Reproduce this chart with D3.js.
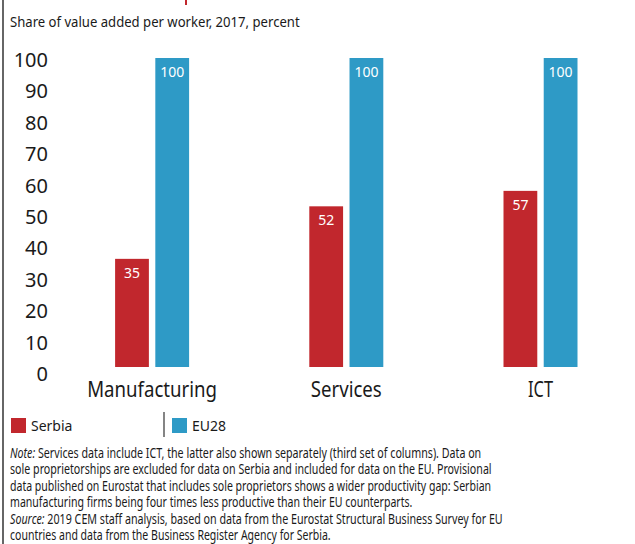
<!DOCTYPE html>
<html><head><meta charset="utf-8">
<script src="https://cdn.jsdelivr.net/npm/d3@7"></script>
<style>body{margin:0;background:#fff}svg{display:block}text{font-family:"Noto Sans",sans-serif;fill:#1a1a1a}</style>
</head><body>
<svg id="c" width="635" height="544"></svg>
<script>
const categories = ["Manufacturing", "Services", "ICT"];
const seriesNames = ["Serbia", "EU28"];
const serbia = [35, 52, 57];
const eu28 = [100, 100, 100];
const yTicks = [0, 10, 20, 30, 40, 50, 60, 70, 80, 90, 100];
const subtitle = "Share of value added per worker, 2017, percent";
const noteLines = [
  [["Note:", true], [" Services data include ICT, the latter also shown separately (third set of columns). Data on", false]],
  [["sole proprietorships are excluded for data on Serbia and included for data on the EU. Provisional", false]],
  [["data published on Eurostat that includes sole proprietors shows a wider productivity gap: Serbian", false]],
  [["manufacturing firms being four times less productive than their EU counterparts.", false]],
  [["Source:", true], [" 2019 CEM staff analysis, based on data from the Eurostat Structural Business Survey for EU", false]],
  [["countries and data from the Business Register Agency for Serbia.", false]]
];
const noteWidths = [472, 482, 482, 403, 493, 321];
const colors = ["#c1272d", "#2e9ac6"];

const svg = d3.select("#c");

function fit(sel, w) {
  const n = sel.node();
  const x = +sel.attr("x");
  const len = n.getComputedTextLength();
  sel.attr("transform", `translate(${x},0) scale(${w / len},1) translate(${-x},0)`);
}

// frame line and title fragment
svg.append("line").attr("x1", 3).attr("x2", 3).attr("y1", 0).attr("y2", 544)
  .attr("stroke", "#333").attr("stroke-width", 1.5);
svg.append("rect").attr("x", 185).attr("y", 0).attr("width", 2).attr("height", 5).attr("fill", "#c1272d");

fit(svg.append("text").attr("x", 10).attr("y", 27).attr("font-size", 14.5).text(subtitle), 290);

const x = d3.scaleBand().domain(categories).range([55, 637.6]).padding(0);
const xs = d3.scaleBand().domain(seriesNames).range([-37, 37]).paddingInner(0.16).paddingOuter(0);
const y = d3.scaleLinear().domain([0, 100]).range([367, 58]);
const yLab = d3.scaleLinear().domain([0, 100]).range([374, 60]);

// y tick labels
const yAxis = d3.axisLeft(yLab).tickValues(yTicks).tickSize(0).tickPadding(0);
const ga = svg.append("g").attr("transform", "translate(48,0)").call(yAxis);
ga.select(".domain").remove();
ga.selectAll("text").attr("font-size", 20).attr("font-family", "Noto Sans").attr("fill", "#1a1a1a");

const data = categories.map((c, i) => ({ c, vals: [serbia[i], eu28[i]] }));
const groups = svg.append("g").selectAll("g").data(data).join("g")
  .attr("transform", d => `translate(${x(d.c) + x.bandwidth() / 2},0)`);
const bars = groups.selectAll("g").data(d => d.vals.map((v, j) => ({ v, s: seriesNames[j], j }))).join("g");
bars.append("rect")
  .attr("x", d => xs(d.s)).attr("width", xs.bandwidth())
  .attr("y", d => y(d.v)).attr("height", d => y(0) - y(d.v))
  .attr("fill", d => colors[d.j]);
bars.append("text")
  .attr("x", d => xs(d.s) + xs.bandwidth() / 2).attr("y", d => y(d.v) + 19)
  .attr("text-anchor", "middle").attr("font-size", 14).style("fill", "#fff")
  .text(d => d.v);

// category labels
svg.append("g").selectAll("text").data(categories).join("text")
  .attr("x", d => x(d) + x.bandwidth() / 2).attr("y", 397)
  .attr("text-anchor", "middle").attr("font-size", 21.5)
  .text(d => d)
  .each(function(d) {
    const s = d3.select(this);
    const len = this.getComputedTextLength();
    const target = { "Manufacturing": 130, "Services": 71, "ICT": 25 }[d];
    const cx = +s.attr("x");
    s.attr("transform", `translate(${cx},0) scale(${target / len},1) translate(${-cx},0)`);
  });

// legend
const lg = [{ n: "Serbia", x: 11 }, { n: "EU28", x: 172 }];
lg.forEach((l, i) => {
  svg.append("rect").attr("x", l.x).attr("y", 418).attr("width", 15).attr("height", 15).attr("fill", colors[i]);
  svg.append("text").attr("x", l.x + 20).attr("y", 431).attr("font-size", 14).text(l.n);
});
svg.append("line").attr("x1", 164).attr("x2", 164).attr("y1", 412).attr("y2", 437)
  .attr("stroke", "#333").attr("stroke-width", 1.2);

// notes
noteLines.forEach((parts, i) => {
  const t = svg.append("text").attr("x", 10).attr("y", 458 + i * 16.5).attr("font-size", 14);
  parts.forEach(p => t.append("tspan").attr("font-style", p[1] ? "italic" : "normal").text(p[0]));
  fit(t, noteWidths[i]);
});
</script>
</body></html>
